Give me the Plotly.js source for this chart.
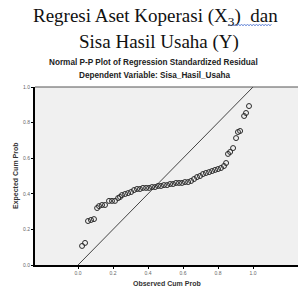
<!DOCTYPE html>
<html><head><meta charset="utf-8">
<script src="https://cdn.plot.ly/plotly-3.0.1.min.js"></script>
<style>html,body{margin:0;padding:0;background:#fff;}#chart{width:298px;height:291px;}</style>
</head><body><div id="chart"></div>
<script>
const observedCumProb = [0.023,0.040,0.057,0.074,0.091,0.109,0.120,0.137,0.154,0.177,0.194,0.211,0.229,0.240,0.251,0.269,0.286,0.303,0.320,0.337,0.354,0.371,0.389,0.406,0.423,0.440,0.457,0.474,0.491,0.509,0.526,0.543,0.560,0.577,0.594,0.611,0.629,0.646,0.663,0.680,0.697,0.714,0.731,0.749,0.766,0.783,0.800,0.817,0.834,0.846,0.857,0.869,0.886,0.903,0.914,0.926,0.949,0.960,0.977];
const expectedCumProb = [0.107,0.124,0.247,0.253,0.258,0.320,0.331,0.337,0.337,0.360,0.360,0.360,0.376,0.382,0.393,0.399,0.404,0.410,0.421,0.427,0.427,0.433,0.433,0.433,0.438,0.438,0.444,0.444,0.449,0.449,0.455,0.455,0.461,0.461,0.461,0.466,0.466,0.472,0.483,0.494,0.500,0.511,0.517,0.522,0.528,0.534,0.539,0.545,0.556,0.573,0.624,0.635,0.657,0.713,0.747,0.753,0.837,0.854,0.893];
const refLineX = [0, 1];
const refLineY = [0, 1];
const tickVals = [0, 0.2, 0.4, 0.6, 0.8, 1.0];
const tickText = ["0.0","0.2","0.4","0.6","0.8","1.0"];

const sans = "Liberation Sans, Arial, sans-serif";
const serif = "Liberation Serif, Times New Roman, serif";

const traces = [
  {x: refLineX, y: refLineY, mode: "lines", line: {color: "#444", width: 1}, hoverinfo: "skip", cliponaxis: false},
  {x: observedCumProb, y: expectedCumProb, mode: "markers",
   marker: {symbol: "circle-open", size: 5, color: "#2a2a2a", line: {width: 1, color: "#2a2a2a"}}}
];

const L = 35, T = 87, W = 263, H = 178;
function px(p){ return (p - L) / W; }
function py(p){ return (T + H - p) / H; }

// spell-check wavy underline under "dan"
let wave = "";
for (let i = 0, xx = 228; xx <= 272; i++, xx += 1.5) {
  wave += (i === 0 ? "M " : " L ") + px(xx).toFixed(4) + "," + py(i % 2 ? 24 : 26).toFixed(4);
}

const layout = {
  width: 298, height: 291,
  margin: {l: L, r: 0, t: T, b: 291 - T - H},
  paper_bgcolor: "#fff", plot_bgcolor: "#f0f0f0",
  showlegend: false,
  xaxis: {range: [-0.246, 1.257], tickvals: tickVals, ticktext: tickText, showgrid: false, zeroline: false,
          showline: true, linecolor: "#000", linewidth: 2, ticks: "outside", ticklen: 2, tickcolor: "#000",
          tickfont: {family: sans, size: 5, color: "#666"}, fixedrange: true},
  yaxis: {range: [0, 1], tickvals: tickVals, ticktext: tickText, showgrid: false, zeroline: false,
          showline: true, linecolor: "#000", linewidth: 2, ticks: "outside", ticklen: 2, tickcolor: "#000",
          tickfont: {family: sans, size: 5, color: "#666"}, fixedrange: true},
  shapes: [
    {type: "line", xref: "paper", yref: "paper", x0: 0, x1: 1, y0: 1, y1: 1, line: {color: "#555", width: 1}},
    {type: "path", xref: "paper", yref: "paper", path: wave, line: {color: "#5b7fd6", width: 0.8}}
  ],
  annotations: [
    {text: "Regresi Aset Koperasi (X<sub>3</sub>)&nbsp; dan", xref: "paper", yref: "paper", x: px(155), y: py(17),
     xanchor: "center", yanchor: "middle", showarrow: false, font: {family: serif, size: 19, color: "#111"}},
    {text: "Sisa Hasil Usaha (Y)", xref: "paper", yref: "paper", x: px(159), y: py(42),
     xanchor: "center", yanchor: "middle", showarrow: false, font: {family: serif, size: 19, color: "#111"}},
    {text: "<b>Normal P-P Plot of Regression Standardized Residual</b>", xref: "paper", yref: "paper", x: px(153), y: py(62),
     xanchor: "center", yanchor: "middle", showarrow: false, font: {family: sans, size: 8.2, color: "#222"}},
    {text: "<b>Dependent Variable: Sisa_Hasil_Usaha</b>", xref: "paper", yref: "paper", x: px(155), y: py(75),
     xanchor: "center", yanchor: "middle", showarrow: false, font: {family: sans, size: 8.2, color: "#222"}},
    {text: "<b>Observed Cum Prob</b>", xref: "paper", yref: "paper", x: px(167), y: py(283),
     xanchor: "center", yanchor: "middle", showarrow: false, font: {family: sans, size: 7, color: "#333"}},
    {text: "<b>Expected Cum Prob</b>", xref: "paper", yref: "paper", x: px(16), y: py(176), textangle: -90,
     xanchor: "center", yanchor: "middle", showarrow: false, font: {family: sans, size: 7, color: "#333"}}
  ]
};

Plotly.newPlot("chart", traces, layout, {displayModeBar: false, staticPlot: true});
</script>
</body></html>
